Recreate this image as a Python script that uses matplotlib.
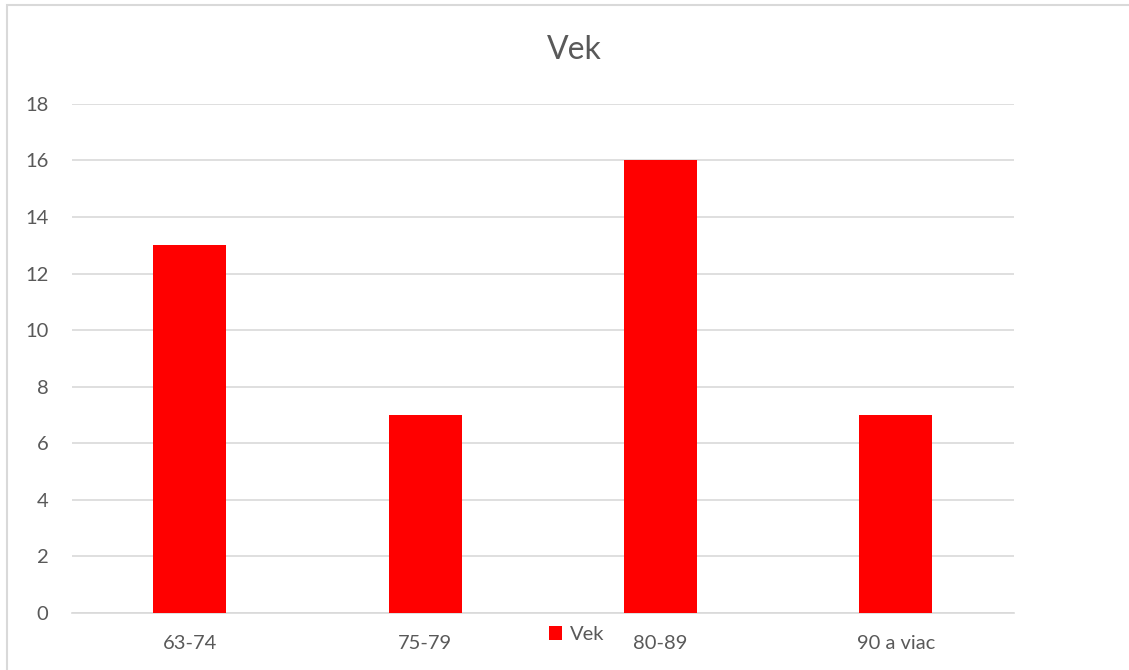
import matplotlib
matplotlib.use('Agg')
import matplotlib.pyplot as plt
from matplotlib.patches import Rectangle

plt.rcParams['font.family'] = ['Lato', 'DejaVu Sans']

# data
categories = ['63-74', '75-79', '80-89', '90 a viac']
values = [13, 7, 16, 7]
series_name = 'Vek'

fig = plt.figure(figsize=(11.29, 6.7), dpi=100)
ax = fig.add_axes([0.0638, 0.085, 0.834, 0.76])

ax.bar(range(len(categories)), values, width=0.31, color='#ff0000', label=series_name, zorder=3)

ax.set_xlim(-0.5, len(categories) - 0.5)
ax.set_ylim(0, 18)
ax.set_yticks(range(0, 19, 2))
ax.set_xticks(range(len(categories)))
ax.set_xticklabels(categories)
ax.tick_params(axis='both', length=0, labelsize=14.5, colors='#595959')
ax.tick_params(axis='x', pad=16)
ax.tick_params(axis='y', pad=17)

ax.grid(axis='y', color='#d9d9d9', linewidth=1.2, zorder=0)
for s in ['top', 'right', 'left']:
    ax.spines[s].set_visible(False)
ax.spines['bottom'].set_color('#d9d9d9')
ax.spines['bottom'].set_linewidth(1.2)

fig.text(0.509, 0.925, 'Vek', ha='center', va='center', fontsize=23, color='#595959')

fig.legend(loc='center', bbox_to_anchor=(0.511, 0.053), frameon=False, fontsize=14.5,
           handlelength=0.65, handleheight=0.65, handletextpad=0.4, labelcolor='#595959')

# chart border
fig.patches.append(Rectangle((7 / 1129, -0.1), 1.2, 1.1 - 5 / 670, transform=fig.transFigure,
                             fill=False, edgecolor='#d9d9d9', linewidth=1.5))

fig.savefig('out.png', dpi=100)
